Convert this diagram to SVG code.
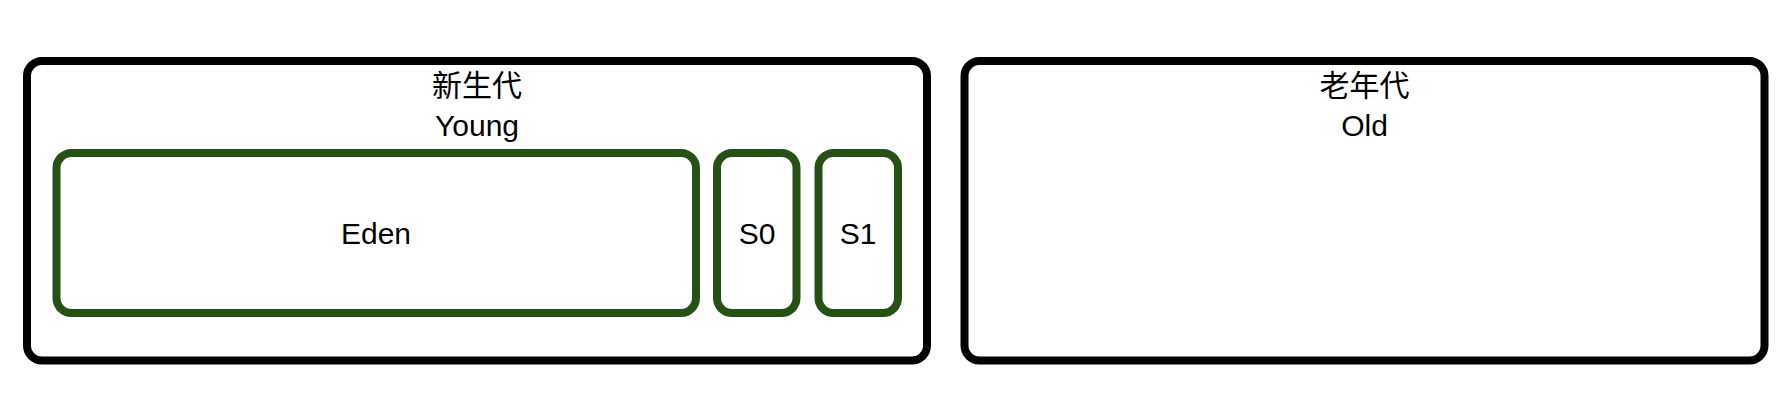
<svg xmlns="http://www.w3.org/2000/svg" width="1792" height="400" viewBox="0 0 1792 400">
<style>
.gen{fill:#ffffff;stroke:#000000;stroke-width:8}
.sp{fill:#ffffff;stroke:#275015;stroke-width:8}
.t{font-family:"Liberation Sans","Noto Sans CJK SC",sans-serif;font-size:30px;fill:#000000;text-anchor:middle}
.c{font-family:"Noto Sans CJK SC","Liberation Sans",sans-serif;font-size:30px;fill:#000000;text-anchor:middle}
</style>
<rect width="1792" height="400" fill="#ffffff"/>
<g id="young">
<rect class="gen" x="27" y="61" width="900" height="299.5" rx="15" ry="15"/>
<text class="c" x="477" y="95.5">新生代</text>
<text class="t" x="477" y="136">Young</text>
</g>
<g id="old">
<rect class="gen" x="964.5" y="61" width="800" height="299.5" rx="15" ry="15"/>
<text class="c" x="1364.5" y="95.5">老年代</text>
<text class="t" x="1364.5" y="136">Old</text>
</g>
<g id="eden">
<rect class="sp" x="56.5" y="153" width="639.5" height="160" rx="15" ry="15"/>
<text class="t" x="376" y="244">Eden</text>
</g>
<g id="s0">
<rect class="sp" x="717" y="153" width="79.5" height="160" rx="15" ry="15"/>
<text class="t" x="757" y="244">S0</text>
</g>
<g id="s1">
<rect class="sp" x="818.5" y="153" width="79.5" height="160" rx="15" ry="15"/>
<text class="t" x="858" y="244">S1</text>
</g>
<g id="connectors"></g>
</svg>
